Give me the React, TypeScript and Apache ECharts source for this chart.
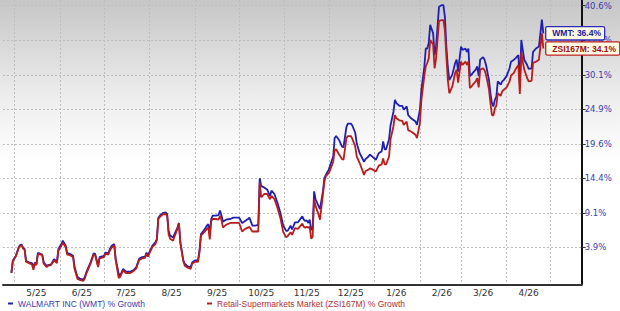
import React, { useEffect, useRef } from "react";
import * as echarts from "echarts";

const DATES = [
  "2025-04-29","2025-04-30","2025-05-02","2025-05-04","2025-05-05","2025-05-06","2025-05-07","2025-05-08","2025-05-09","2025-05-11",
  "2025-05-13","2025-05-14","2025-05-15","2025-05-16","2025-05-17","2025-05-18","2025-05-20","2025-05-21","2025-05-23","2025-05-24",
  "2025-05-26","2025-05-28","2025-05-29","2025-05-30","2025-05-31","2025-06-02","2025-06-03","2025-06-05","2025-06-06","2025-06-08",
  "2025-06-10","2025-06-11","2025-06-13","2025-06-15","2025-06-17","2025-06-18","2025-06-19","2025-06-22","2025-06-24","2025-06-25",
  "2025-06-27","2025-06-28","2025-07-01","2025-07-02","2025-07-04","2025-07-05","2025-07-06","2025-07-08","2025-07-09","2025-07-11",
  "2025-07-12","2025-07-14","2025-07-16","2025-07-19","2025-07-21","2025-07-23","2025-07-25","2025-07-27","2025-07-29","2025-07-30",
  "2025-07-31","2025-08-01","2025-08-03","2025-08-05","2025-08-06","2025-08-07","2025-08-08","2025-08-10","2025-08-12","2025-08-13",
  "2025-08-14","2025-08-15","2025-08-17","2025-08-18","2025-08-20","2025-08-21","2025-08-22","2025-08-24","2025-08-25","2025-08-27",
  "2025-08-29","2025-08-30","2025-09-01","2025-09-03","2025-09-04","2025-09-05","2025-09-06","2025-09-08","2025-09-09","2025-09-10",
  "2025-09-11","2025-09-12","2025-09-13","2025-09-15","2025-09-17","2025-09-18","2025-09-19","2025-09-20","2025-09-22","2025-09-25",
  "2025-09-27","2025-09-29","2025-10-01","2025-10-03","2025-10-05","2025-10-07","2025-10-08","2025-10-10","2025-10-12","2025-10-14",
  "2025-10-15","2025-10-16","2025-10-18","2025-10-20","2025-10-22","2025-10-23","2025-10-25","2025-10-27","2025-10-29","2025-10-31",
  "2025-11-02","2025-11-03","2025-11-05","2025-11-06","2025-11-08","2025-11-10","2025-11-13","2025-11-14","2025-11-15","2025-11-16",
  "2025-11-17","2025-11-18","2025-11-19","2025-11-20","2025-11-21","2025-11-22","2025-11-24","2025-11-25","2025-11-27","2025-11-28",
  "2025-11-29","2025-12-01","2025-12-02","2025-12-04","2025-12-05","2025-12-06","2025-12-08","2025-12-10","2025-12-11","2025-12-13",
  "2025-12-14","2025-12-16","2025-12-17","2025-12-19","2025-12-20","2025-12-22","2025-12-25","2025-12-26","2025-12-28","2025-12-29",
  "2025-12-31","2026-01-02","2026-01-04","2026-01-06","2026-01-07","2026-01-08","2026-01-09","2026-01-11","2026-01-12","2026-01-14",
  "2026-01-15","2026-01-16","2026-01-18","2026-01-20","2026-01-21","2026-01-23","2026-01-24","2026-01-26","2026-01-29","2026-01-30",
  "2026-02-01","2026-02-02","2026-02-04","2026-02-05","2026-02-06","2026-02-07","2026-02-08","2026-02-10","2026-02-11","2026-02-12",
  "2026-02-14","2026-02-16","2026-02-17","2026-02-18","2026-02-19","2026-02-20","2026-02-21","2026-02-23","2026-02-25","2026-02-26",
  "2026-02-27","2026-02-28","2026-03-01","2026-03-02","2026-03-04","2026-03-05","2026-03-06","2026-03-07","2026-03-08","2026-03-09",
  "2026-03-11","2026-03-12","2026-03-13","2026-03-14","2026-03-16","2026-03-17","2026-03-18","2026-03-20","2026-03-21","2026-03-22",
  "2026-03-23","2026-03-24","2026-03-25","2026-03-26","2026-03-28","2026-03-29","2026-03-30","2026-04-01","2026-04-03","2026-04-04",
  "2026-04-06","2026-04-07","2026-04-09","2026-04-10","2026-04-11","2026-04-12","2026-04-13","2026-04-15","2026-04-16","2026-04-18",
  "2026-04-19","2026-04-21","2026-04-23","2026-04-24","2026-04-25","2026-04-26"
];

const WMT = [
  0.0,1.9,2.6,3.9,4.25,4.3,3.8,3.65,1.8,1.6,
  1.5,0.9,1.6,1.3,3.0,3.0,2.8,1.6,1.1,1.2,
  1.3,2.1,1.9,1.7,3.65,4.4,4.9,4.15,3.0,2.9,
  2.6,0.9,-0.6,-0.9,-1.0,-0.6,0.1,1.7,3.0,2.9,
  1.1,2.4,2.6,3.1,3.0,3.65,4.05,4.4,2.1,-0.1,
  -0.4,0.6,0.2,0.2,0.4,0.9,2.2,2.4,2.5,3.1,
  2.7,3.2,4.15,4.65,5.2,8.4,8.7,9.1,9.2,8.95,
  6.4,5.7,5.4,5.9,6.9,7.6,4.65,1.9,1.4,1.0,
  0.9,1.6,1.9,1.9,3.4,5.9,6.2,6.8,7.2,7.4,
  6.1,8.2,8.7,8.7,8.8,9.5,8.7,7.8,8.1,8.2,
  8.4,8.4,8.4,7.6,7.9,8.2,8.4,7.2,7.2,7.3,
  14.4,13.2,13.0,12.7,11.7,12.5,12.0,10.7,9.2,7.2,
  6.4,6.4,7.2,6.6,7.7,7.7,8.6,8.1,7.9,8.0,
  7.6,8.1,6.6,6.6,12.4,11.2,10.2,9.7,12.4,14.4,
  14.9,15.7,16.4,17.7,20.5,20.8,20.2,19.2,19.1,22.2,
  22.7,22.7,22.4,21.3,19.7,18.2,16.9,17.3,17.7,18.0,
  17.6,17.2,18.2,18.5,20.0,18.8,18.8,20.3,22.4,24.5,
  26.3,25.8,25.4,25.4,24.8,25.3,24.0,23.5,23.0,22.5,
  24.8,27.8,31.3,34.1,34.1,34.9,37.7,36.4,33.1,34.4,
  40.45,40.7,40.7,38.9,34.4,31.3,29.3,30.1,31.9,32.4,
  30.6,32.6,34.4,33.9,34.1,33.6,34.1,29.9,30.1,30.4,
  30.9,31.4,29.9,32.4,32.8,32.4,31.6,29.3,27.3,25.8,
  25.3,26.3,26.8,29.1,28.6,29.1,29.3,29.9,31.1,32.1,
  32.4,32.6,33.1,28.6,35.4,33.9,32.4,31.6,31.0,31.1,
  33.6,34.1,34.4,36.4,38.5,36.4
];

const ZSI = [
  0.0,1.8,2.5,3.8,4.15,4.2,3.7,3.5,1.7,1.5,
  1.3,0.5,1.45,1.2,2.8,2.85,2.7,1.4,0.9,1.1,
  1.2,1.9,1.7,1.5,3.4,4.1,4.6,3.9,2.8,2.7,
  2.4,0.6,-0.9,-1.1,-1.2,-0.8,-0.1,1.5,2.8,2.7,
  0.9,2.2,2.4,2.9,2.8,3.4,3.8,4.2,1.9,-0.75,
  -0.6,0.4,0.0,0.0,0.25,0.7,2.0,2.2,2.3,2.9,
  2.5,3.0,3.95,4.4,5.0,8.2,8.5,8.9,8.95,8.7,
  5.9,5.2,4.9,5.5,6.7,7.6,4.5,1.8,1.1,0.8,
  0.6,1.4,1.7,1.7,3.1,5.7,5.9,6.4,6.7,6.9,
  5.1,7.9,8.2,8.2,8.1,8.7,8.0,6.9,7.3,7.6,
  7.6,7.6,7.6,6.3,6.7,6.9,7.0,6.3,6.3,6.3,
  13.7,11.5,12.0,12.0,11.2,11.7,11.2,9.95,8.4,6.2,
  5.4,5.6,6.2,5.8,6.8,6.7,7.5,7.0,6.9,7.0,
  6.9,7.0,5.2,5.5,11.2,10.2,8.9,8.1,11.9,13.9,
  14.7,15.2,15.7,16.9,18.7,18.8,18.0,17.3,17.2,20.5,
  20.8,20.8,20.4,19.2,17.7,16.7,14.9,15.5,15.7,15.9,
  15.7,15.4,16.3,16.5,17.4,16.5,16.5,17.7,20.3,22.3,
  24.0,23.5,23.2,23.1,22.5,23.0,21.7,21.5,21.0,20.5,
  22.8,26.3,29.9,31.4,31.9,32.6,35.4,34.7,31.1,32.6,
  38.3,38.4,38.4,36.9,32.9,29.3,27.3,28.3,30.4,30.9,
  28.9,30.6,32.1,31.6,32.1,31.6,32.1,28.1,28.3,28.6,
  29.1,29.6,28.2,30.9,31.1,30.8,30.1,27.9,25.8,24.0,
  23.9,25.0,25.4,27.3,26.9,27.6,27.8,28.2,29.1,30.0,
  30.4,30.9,31.6,27.2,33.5,32.1,30.9,29.6,29.1,29.2,
  31.9,32.1,32.4,34.4,36.4,34.1
];

const WMT_NAME = "WALMART INC (WMT) % Growth";
const ZSI_NAME = "Retail-Supermarkets Market (ZSI167M) % Growth";
const WMT_TICKER = "WMT";
const ZSI_TICKER = "ZSI167M";

const MONTH_STARTS = [
  "2025-05-01","2025-06-01","2025-07-01","2025-08-01","2025-09-01","2025-10-01","2025-11-01",
  "2025-12-01","2026-01-01","2026-02-01","2026-03-01","2026-04-01","2026-05-01"
];
const MONTH_LABEL_AT = [
  "2025-05-16","2025-06-16","2025-07-16","2025-08-16","2025-09-16","2025-10-16",
  "2025-11-16","2025-12-16","2026-01-16","2026-02-16","2026-03-16","2026-04-16"
];
const Y_TICKS = [3.9, 9.1, 14.4, 19.6, 24.9, 30.1, 35.4, 40.6];
const ORIGIN = "2025-05-01";
const X_MIN = "2025-04-23";
const X_MAX = "2026-05-22";

const DAY = 86400000;
function utc(s: string): number {
  const [y, m, d] = s.split("-").map(Number);
  return Date.UTC(y, m - 1, d);
}
// days since ORIGIN
function dn(s: string): number {
  return Math.round((utc(s) - utc(ORIGIN)) / DAY);
}
function labelOf(day: number): string {
  const d = new Date(utc(ORIGIN) + Math.round(day) * DAY);
  return `${d.getUTCMonth() + 1}/${String(d.getUTCFullYear()).slice(2)}`;
}

export default function App() {
  const ref = useRef<HTMLDivElement>(null);
  useEffect(() => {
    if (!ref.current) return;
    const chart = echarts.init(ref.current, undefined, { renderer: "svg" });
    const wmtData = DATES.map((d, i) => [dn(d), WMT[i]]);
    const zsiData = DATES.map((d, i) => [dn(d), ZSI[i]]);
    const split = { show: true, lineStyle: { color: "#bdbdbd", type: [2, 2] as any, width: 1 } };
    const endLbl = (ticker: string, vals: number[], color: string, txt: string) => ({
      show: true,
      formatter: () => `${ticker}: ${vals[vals.length - 1].toFixed(1)}%`,
      distance: 3,
      backgroundColor: "#fffbe3",
      borderColor: color,
      borderWidth: 1.3,
      borderRadius: 1,
      padding: [2, 3, 1, 6],
      color: txt,
      fontFamily: "Liberation Sans, Arial, sans-serif",
      fontWeight: "bold",
      fontSize: 8.5,
    });
    chart.setOption({
      animation: false,
      backgroundColor: "transparent",
      grid: { left: 3, right: 38.3, top: 0, bottom: 26.7, containLabel: false },
      xAxis: {
        type: "value",
        min: dn(X_MIN) + 0.3,
        max: dn(X_MAX) + 0.1,
        axisLine: { show: true, onZero: false, lineStyle: { color: "#333", width: 2 } },
        axisTick: { show: false, customValues: MONTH_STARTS.map(dn) },
        splitLine: split,
        axisLabel: {
          customValues: MONTH_LABEL_AT.map(dn),
          formatter: (v: number) => labelOf(v),
          color: "#333",
          fontSize: 9,
          fontFamily: "DejaVu Sans, sans-serif",
          margin: 4,
        },
      },
      yAxis: {
        type: "value",
        position: "right",
        min: -1.72,
        max: 41.47,
        axisLine: { show: true, onZero: false, lineStyle: { color: "#111", width: 2 } },
        axisTick: { show: true, length: 4, lineStyle: { color: "#333" }, customValues: Y_TICKS },
        splitLine: split,
        axisLabel: {
          customValues: Y_TICKS,
          formatter: (v: number) => `${v.toFixed(1)}%`,
          color: "#3b3bab",
          fontSize: 8.5,
          fontFamily: "DejaVu Sans, sans-serif",
          margin: 3,
        },
      },
      legend: {
        left: 8,
        top: 299,
        padding: 0,
        icon: "rect",
        itemWidth: 5,
        itemHeight: 2,
        itemGap: 62,
        textStyle: { fontFamily: "Liberation Sans, Arial, sans-serif", fontSize: 8.5 },
        data: [
          { name: WMT_NAME, textStyle: { color: "#3a3ab0" } },
          { name: ZSI_NAME, textStyle: { color: "#b03030" } },
        ],
      },
      series: [
        {
          name: WMT_NAME,
          type: "line",
          data: wmtData,
          showSymbol: false,
          symbol: "none",
          lineStyle: { color: "#1f1fb0", width: 1.8 },
          itemStyle: { color: "#1f1fb0" },
          endLabel: endLbl(WMT_TICKER, WMT, "#2a2ab8", "#2020a0"),
          z: 3,
        },
        {
          name: ZSI_NAME,
          type: "line",
          data: zsiData,
          showSymbol: false,
          symbol: "none",
          lineStyle: { color: "#b81c1c", width: 1.8 },
          itemStyle: { color: "#b81c1c" },
          endLabel: endLbl(ZSI_TICKER, ZSI, "#c02020", "#a01010"),
          z: 4,
        },
      ],
    });
    return () => chart.dispose();
  }, []);
  return (
    <div
      style={{
        position: "fixed",
        left: 0,
        top: 0,
        width: 620,
        height: 311,
        background: "linear-gradient(to bottom, #c6c6c6 0%, #ececec 30%, #ffffff 52%, #ffffff 100%)",
      }}
    >
      <div ref={ref} style={{ width: 620, height: 311 }} />
    </div>
  );
}
